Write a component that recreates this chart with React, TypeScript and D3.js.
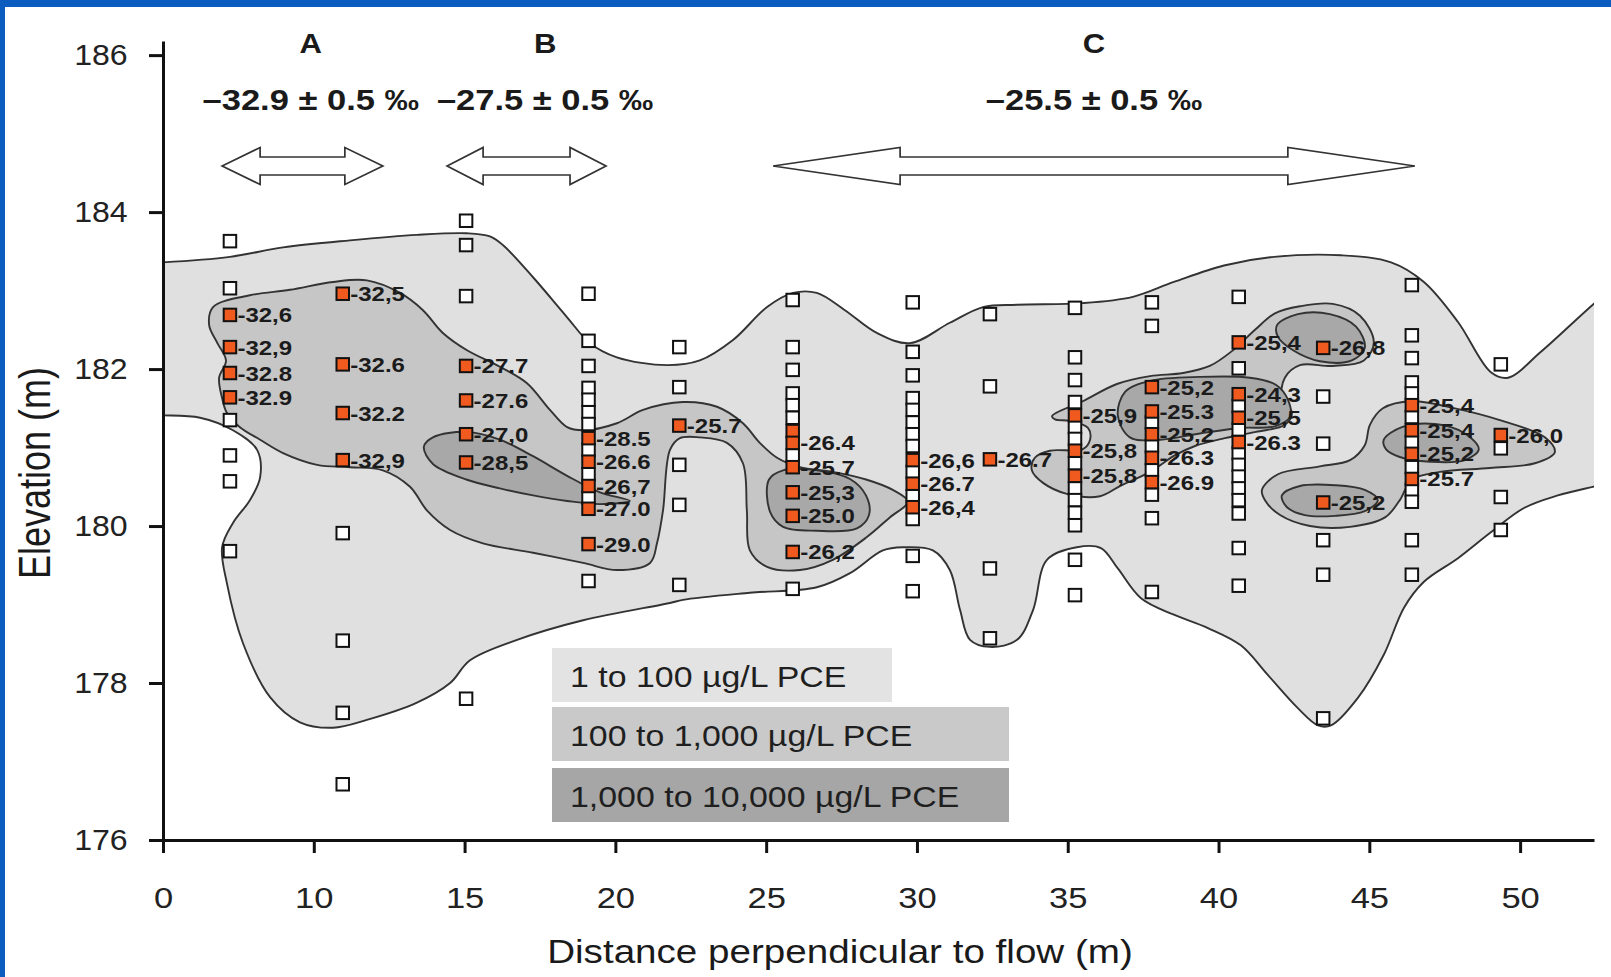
import React, { useEffect, useRef } from 'react';
import * as d3 from 'd3';

const W = 1611;
const H = 977;
const FONT = "'Liberation Sans', Arial, Helvetica, sans-serif";

// axis ticks (the first tick is printed as "0" in the original figure)
const xTicks = [5, 10, 15, 20, 25, 30, 35, 40, 45, 50];
const xTickLabels = ['0', '10', '15', '20', '25', '30', '35', '40', '45', '50'];
const yTicks = [176, 178, 180, 182, 184, 186];

// sampling wells: distance (m)
const wellDistance = [7.22, 10.96, 15.05, 19.11, 22.12, 25.88, 29.86, 32.42, 35.24, 37.79, 40.67, 43.47, 46.41, 49.36];

// ports without isotope value (elevation, m)
const emptyPorts = [
  [183.63, 183.03, 181.35, 180.9, 180.57, 179.68],
  [179.91, 178.54, 177.62, 176.71],
  [183.89, 183.58, 182.93, 177.8],
  [182.96, 182.36, 182.04, 181.76, 181.61, 181.45, 181.3, 180.97, 180.66, 180.36, 179.3],
  [182.28, 181.77, 180.78, 180.27, 179.25],
  [182.88, 182.28, 181.99, 181.69, 181.54, 181.38, 180.9, 179.2],
  [182.85, 182.22, 181.92, 181.63, 181.48, 181.32, 181.17, 181.02, 180.69, 180.38, 180.09, 179.62, 179.17],
  [182.7, 181.78, 179.46, 178.57],
  [182.78, 182.15, 181.86, 181.58, 181.26, 181.11, 180.8, 180.48, 180.33, 180.17, 180.01, 179.57, 179.12],
  [182.85, 182.55, 181.32, 181.02, 180.71, 180.4, 180.1, 179.16],
  [182.92, 182.01, 181.53, 181.23, 180.93, 180.78, 180.63, 180.48, 180.33, 180.16, 179.72, 179.24],
  [181.65, 181.05, 179.82, 179.38, 177.55],
  [183.07, 182.43, 182.14, 181.83, 181.69, 181.39, 181.07, 180.75, 180.46, 180.31, 179.82, 179.38],
  [182.06, 180.99, 180.37, 179.95],
];

// ports with a d13C value (elevation, m) and the printed value
const isotopePorts = [
  [182.69, 182.28, 181.95, 181.64],
  [182.96, 182.06, 181.44, 180.84],
  [182.04, 181.6, 181.17, 180.81],
  [181.12, 180.82, 180.51, 180.22, 179.77],
  [181.28],
  [181.21, 181.06, 180.75, 180.43, 180.13, 179.67],
  [180.84, 180.54, 180.24],
  [180.85],
  [181.41, 180.96, 180.64],
  [181.77, 181.46, 181.17, 180.87, 180.56],
  [182.34, 181.68, 181.38, 181.07],
  [182.27, 180.3],
  [181.54, 181.22, 180.92, 180.6],
  [181.16],
];
const isotopeLabels = [
  ['-32,6', '-32,9', '-32.8', '-32.9'],
  ['-32,5', '-32.6', '-32.2', '-32,9'],
  ['-27.7', '-27.6', '-27,0', '-28,5'],
  ['-28.5', '-26.6', '-26,7', '-27.0', '-29.0'],
  ['-25.7'],
  ['', '-26.4', '-25.7', '-25,3', '-25.0', '-26,2'],
  ['-26,6', '-26.7', '-26,4'],
  ['-26.7'],
  ['-25,9', '-25,8', '-25,8'],
  ['-25,2', '-25.3', '-25,2', '-26.3', '-26.9'],
  ['-25,4', '-24,3', '-25,5', '-26.3'],
  ['-26,8', '-25,2'],
  ['-25,4', '-25,4', '-25,2', '-25.7'],
  ['-26,0'],
];

// zones above the section
const zoneNames = ['A', 'B', 'C'];
const zoneValues = ['–32.9 ± 0.5 ‰', '–27.5 ± 0.5 ‰', '–25.5 ± 0.5 ‰'];
const zoneCenter = [9.9, 17.67, 35.87];
const zoneFrom = [6.96, 14.42, 25.23];
const zoneTo = [12.29, 19.69, 46.51];

// PCE concentration contours [distance, elevation]
const pce1to100 = [
  [4.24, 183.35], [5.0, 183.36], [7.22, 183.43], [8.98, 183.55], [11.2, 183.64], [13.42, 183.71], [15.08, 183.73],
  [15.84, 183.69], [16.27, 183.58], [17.27, 183.17], [18.4, 182.66], [19.16, 182.33], [20.05, 182.15], [21.71, 182.05],
  [22.8, 182.11], [23.9, 182.37], [25.03, 182.79], [25.89, 182.97], [26.68, 182.97], [27.61, 182.75], [28.67, 182.46],
  [29.77, 182.33], [31.09, 182.59], [32.19, 182.79], [33.32, 182.82], [35.5, 182.84], [37.16, 182.92], [38.52, 183.11],
  [40.18, 183.32], [41.84, 183.43], [44.06, 183.45], [45.72, 183.36], [46.81, 183.11], [47.94, 182.6], [49.03, 181.96],
  [49.6, 181.89], [50.69, 182.22], [52.41, 182.82], [53.47, 183.16],
  [53.47, 180.59], [52.41, 180.5], [51.25, 180.39], [50.13, 180.23], [49.03, 179.92], [47.94, 179.59], [46.81, 179.29],
  [46.15, 178.96], [45.48, 178.36], [44.62, 177.81], [43.73, 177.46], [43.3, 177.46], [42.63, 177.68], [41.64, 178.1],
  [40.74, 178.48], [39.65, 178.7], [38.52, 178.87], [37.43, 179.08], [36.66, 179.46], [36.1, 179.72], [35.3, 179.73],
  [34.31, 179.57], [33.85, 178.93], [33.32, 178.55], [32.42, 178.46], [31.76, 178.55], [31.43, 178.93], [31.09, 179.44],
  [30.53, 179.69], [29.54, 179.73], [28.87, 179.69], [27.78, 179.4], [26.68, 179.22], [24.46, 179.15], [22.24, 179.06],
  [21.81, 179.02], [18.93, 178.8], [16.74, 178.55], [15.18, 178.29], [14.52, 178.0], [13.42, 177.75], [11.76, 177.53],
  [10.64, 177.43], [9.54, 177.5], [8.55, 177.82], [7.65, 178.51], [7.12, 179.27], [6.96, 179.73], [7.32, 180.04],
  [7.88, 180.33], [8.22, 180.62], [8.12, 180.97], [7.32, 181.22], [6.23, 181.38], [5.0, 181.41], [4.24, 181.41],
];

const pce100to1000West = [
  [6.66, 182.79], [7.88, 182.94], [9.21, 183.01], [10.64, 183.11], [11.76, 183.13], [12.86, 182.97], [13.62, 182.75],
  [14.28, 182.46], [15.08, 182.24], [16.17, 182.03], [17.07, 181.82], [17.83, 181.48], [18.4, 181.26], [18.93, 181.22],
  [20.05, 181.31], [20.92, 181.48], [22.24, 181.58], [23.37, 181.52], [24.23, 181.31], [24.79, 181.06], [25.36, 180.87],
  [26.12, 180.75], [27.21, 180.69], [28.34, 180.59], [29.2, 180.46], [29.7, 180.31], [29.1, 180.11], [28.34, 179.86],
  [27.21, 179.57], [26.12, 179.44], [25.03, 179.48], [24.46, 179.69], [24.36, 180.2], [24.23, 180.8], [23.7, 181.06],
  [22.8, 181.13], [22.14, 181.12], [21.81, 180.97], [21.58, 180.2], [21.38, 179.78], [21.15, 179.53], [20.05, 179.44],
  [18.93, 179.53], [17.27, 179.66], [15.61, 179.78], [14.52, 179.95], [13.75, 180.2], [13.19, 180.5], [12.29, 180.71],
  [11.2, 180.75], [10.11, 180.78], [8.98, 180.93], [8.22, 181.1], [7.55, 181.26], [7.12, 181.44], [6.96, 181.63],
  [6.86, 181.89], [7.09, 182.11], [6.79, 182.34], [6.53, 182.56],
];
const pce100to1000Center = [
  [34.48, 181.4], [35.5, 181.59], [36.63, 181.81], [37.73, 181.91], [38.82, 181.95], [39.71, 182.04], [40.48, 182.24],
  [41.21, 182.5], [41.87, 182.71], [42.7, 182.8], [43.79, 182.83], [44.69, 182.68], [45.15, 182.34], [44.82, 182.11],
  [43.79, 182.04], [42.7, 182.05], [42.2, 181.89], [42.1, 181.63], [42.43, 181.45], [42.2, 181.29], [41.24, 181.2],
  [40.21, 181.12], [39.22, 181.02], [38.55, 180.9], [37.73, 180.69], [36.73, 180.51], [36.07, 180.38], [34.97, 180.41],
  [34.18, 180.55], [33.81, 180.71], [33.91, 180.87], [34.41, 180.96], [35.5, 180.98], [35.74, 181.1], [35.67, 181.25],
  [35.07, 181.34], [34.58, 181.36],
];
const pce100to1000East = [
  [41.44, 180.46], [41.97, 180.66], [43.36, 180.76], [44.36, 180.84], [44.85, 181.03], [45.02, 181.29], [45.45, 181.5],
  [46.41, 181.59], [47.84, 181.5], [49.33, 181.35], [50.82, 181.13], [51.15, 180.94], [50.49, 180.8], [49.0, 180.74],
  [47.34, 180.69], [46.41, 180.59], [46.01, 180.33], [45.52, 180.11], [44.36, 179.99], [43.03, 180.0], [42.04, 180.14],
  [41.54, 180.33],
];

const pceHighB = [
  [13.65, 181.01], [13.95, 181.13], [15.08, 181.2], [16.17, 181.1], [17.27, 180.89], [18.4, 180.64], [19.49, 180.43],
  [20.48, 180.32], [19.49, 180.28], [18.4, 180.32], [17.27, 180.39], [16.17, 180.48], [15.08, 180.59], [13.95, 180.79],
];
const pceHigh26 = [
  [25.09, 180.59], [25.56, 180.71], [26.68, 180.71], [27.78, 180.6], [28.31, 180.39], [28.41, 180.14], [28.01, 179.97],
  [26.68, 179.94], [25.56, 179.99], [25.13, 180.18],
];
const pceHigh39 = [
  [36.9, 181.71], [37.73, 181.85], [39.38, 181.9], [41.04, 181.89], [41.9, 181.8], [42.3, 181.61], [42.37, 181.39],
  [41.87, 181.27], [40.71, 181.25], [39.38, 181.18], [38.06, 181.1], [37.06, 181.13], [36.66, 181.41],
];
const pceHigh43Top = [
  [41.94, 182.56], [42.63, 182.7], [43.69, 182.7], [44.56, 182.54], [44.85, 182.27], [44.42, 182.11], [43.36, 182.1],
  [42.47, 182.24], [41.97, 182.41],
];
const pceHigh43Low = [
  [42.1, 180.39], [42.7, 180.51], [43.86, 180.52], [44.85, 180.46], [45.28, 180.33], [44.85, 180.19], [43.86, 180.13],
  [42.86, 180.14], [42.27, 180.24],
];
const pceHigh47 = [
  [45.48, 181.1], [46.08, 181.26], [47.18, 181.3], [48.17, 181.18], [48.63, 180.98], [48.17, 180.84], [47.01, 180.82],
  [46.01, 180.88], [45.55, 180.98],
];

const legendLabels = ['1 to 100 µg/L PCE', '100 to 1,000 µg/L PCE', '1,000 to 10,000 µg/L PCE'];
const legendColors = ['#e3e3e3', '#c9c9c9', '#a6a6a6'];
const legendWidths = [340, 457, 457];

const LIGHT = '#e0e0e0';
const MID = '#c6c6c6';
const DARK = '#a8a8a8';
const ORANGE = '#f05a1e';

export default function App() {
  const svgRef = useRef<SVGSVGElement>(null);

  useEffect(() => {
    draw();
  }, []);

  const draw = () => {
    const svg = d3.select(svgRef.current);
    svg.selectAll('*').remove();

    const x = d3.scaleLinear().domain([5, 52.45]).range([163, 1594]);
    const y = d3.scaleLinear().domain([176, 186.18]).range([840, 41]);

    // slide background
    svg.append('rect').attr('width', W).attr('height', H).attr('fill', '#0b5cbf');
    svg.append('rect').attr('x', 5).attr('y', 7).attr('width', W - 5).attr('height', H - 7).attr('fill', '#fff');

    svg.append('defs').append('clipPath').attr('id', 'plotArea')
      .append('rect')
      .attr('x', x(5)).attr('y', y(186.18))
      .attr('width', x(52.45) - x(5)).attr('height', y(176) - y(186.18));

    const shape = d3.line<number[]>()
      .x(d => x(d[0]))
      .y(d => y(d[1]))
      .curve(d3.curveCatmullRomClosed.alpha(0.5));

    const plume = svg.append('g').attr('clip-path', 'url(#plotArea)');
    const addShape = (pts: number[][], fill: string) => {
      plume.append('path')
        .attr('d', shape(pts))
        .attr('fill', fill)
        .attr('stroke', '#333')
        .attr('stroke-width', 1.9)
        .attr('stroke-linejoin', 'round');
    };
    addShape(pce1to100, LIGHT);
    [pce100to1000West, pce100to1000Center, pce100to1000East].forEach(p => addShape(p, MID));
    [pceHighB, pceHigh26, pceHigh39, pceHigh43Top, pceHigh43Low, pceHigh47].forEach(p => addShape(p, DARK));

    // sampling ports
    const S = 12.5;
    const ports = svg.append('g');
    wellDistance.forEach((dist, i) => {
      emptyPorts[i].forEach(elev => {
        ports.append('rect')
          .attr('x', x(dist) - S / 2).attr('y', y(elev) - S / 2)
          .attr('width', S).attr('height', S)
          .attr('fill', '#fff').attr('stroke', '#111').attr('stroke-width', 2);
      });
      isotopePorts[i].forEach(elev => {
        ports.append('rect')
          .attr('x', x(dist) - S / 2).attr('y', y(elev) - S / 2)
          .attr('width', S).attr('height', S)
          .attr('fill', ORANGE).attr('stroke', '#111').attr('stroke-width', 2);
      });
    });

    const labels = svg.append('g')
      .attr('font-family', FONT).attr('font-weight', 'bold').attr('font-size', 20).attr('fill', '#1b1b1b');
    wellDistance.forEach((dist, i) => {
      isotopePorts[i].forEach((elev, j) => {
        const t = isotopeLabels[i][j];
        if (!t) return;
        labels.append('text')
          .attr('transform', `translate(${x(dist) + 7.5},${y(elev) + 7.5}) scale(1.2,1)`)
          .text(t);
      });
    });

    // axes
    const xAxis = svg.append('g')
      .attr('transform', `translate(0,${y(176)})`)
      .call(d3.axisBottom(x)
        .tickValues(xTicks)
        .tickFormat(d => xTickLabels[xTicks.indexOf(+d)])
        .tickSize(13).tickSizeOuter(0).tickPadding(34));
    xAxis.select('.domain').attr('stroke', '#111').attr('stroke-width', 3);
    xAxis.selectAll('.tick line').attr('stroke', '#111').attr('stroke-width', 3);
    xAxis.selectAll('.tick text')
      .attr('font-family', FONT).attr('font-size', 30).attr('fill', '#222')
      .attr('transform', 'scale(1.15,1)');

    const yAxis = svg.append('g')
      .attr('transform', `translate(${x(5)},0)`)
      .call(d3.axisLeft(y).tickValues(yTicks).tickSize(14).tickSizeOuter(0).tickPadding(19));
    yAxis.select('.domain').attr('stroke', '#111').attr('stroke-width', 3);
    yAxis.selectAll('.tick line').attr('stroke', '#111').attr('stroke-width', 3);
    yAxis.selectAll('.tick text')
      .attr('font-family', FONT).attr('font-size', 30).attr('fill', '#222')
      .attr('transform', 'scale(1.07,1)');

    svg.append('text')
      .attr('transform', 'translate(840,963) scale(1.17,1)')
      .attr('text-anchor', 'middle')
      .attr('font-family', FONT).attr('font-size', 33).attr('fill', '#1a1a1a')
      .text('Distance perpendicular to flow (m)');

    svg.append('text')
      .attr('transform', 'translate(50,473) rotate(-90) scale(1,1.25)')
      .attr('text-anchor', 'middle')
      .attr('font-family', FONT).attr('font-size', 36).attr('fill', '#1a1a1a')
      .text('Elevation (m)');

    // zones: name, mean value, double arrow
    const arrowY = 166;
    const headLen = [38, 36, 127];
    const headH = 18.5;
    const shaftH = 9;
    zoneNames.forEach((name, i) => {
      svg.append('text')
        .attr('transform', `translate(${x(zoneCenter[i])},52.7) scale(1.15,1)`)
        .attr('text-anchor', 'middle')
        .attr('font-family', FONT).attr('font-weight', 'bold').attr('font-size', 27).attr('fill', '#1a1a1a')
        .text(name);
      svg.append('text')
        .attr('transform', `translate(${x(zoneCenter[i])},110) scale(1.15,1)`)
        .attr('text-anchor', 'middle')
        .attr('font-family', FONT).attr('font-weight', 'bold').attr('font-size', 30).attr('fill', '#1a1a1a')
        .text(zoneValues[i]);
      const x0 = x(zoneFrom[i]);
      const x1 = x(zoneTo[i]);
      const hl = headLen[i];
      const p = d3.path();
      p.moveTo(x0, arrowY);
      p.lineTo(x0 + hl, arrowY - headH);
      p.lineTo(x0 + hl, arrowY - shaftH);
      p.lineTo(x1 - hl, arrowY - shaftH);
      p.lineTo(x1 - hl, arrowY - headH);
      p.lineTo(x1, arrowY);
      p.lineTo(x1 - hl, arrowY + headH);
      p.lineTo(x1 - hl, arrowY + shaftH);
      p.lineTo(x0 + hl, arrowY + shaftH);
      p.lineTo(x0 + hl, arrowY + headH);
      p.closePath();
      svg.append('path')
        .attr('d', p.toString())
        .attr('fill', '#fff').attr('stroke', '#333').attr('stroke-width', 1.7)
        .attr('stroke-linejoin', 'miter');
    });

    // legend
    const legendTop = [648, 707, 768];
    legendLabels.forEach((lab, i) => {
      svg.append('rect')
        .attr('x', 552).attr('y', legendTop[i])
        .attr('width', legendWidths[i]).attr('height', 54)
        .attr('fill', legendColors[i]);
      svg.append('text')
        .attr('transform', `translate(570,${legendTop[i] + 39}) scale(1.13,1)`)
        .attr('font-family', FONT).attr('font-size', 30).attr('fill', '#1f1f1f')
        .text(lab);
    });
  };

  return (
    <svg
      ref={svgRef}
      width={W}
      height={H}
      style={{ position: 'absolute', left: 0, top: 0, display: 'block' }}
    />
  );
}
